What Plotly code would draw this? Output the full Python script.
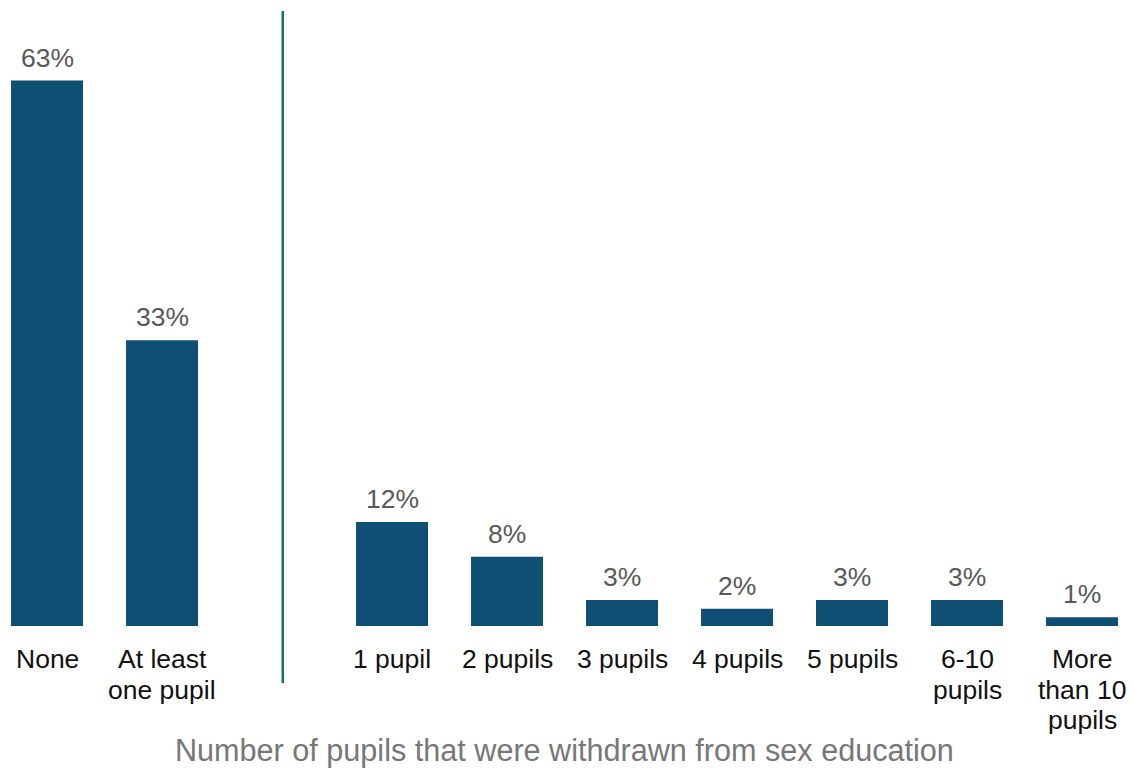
import plotly.graph_objects as go

# Withdrawal summary and breakdown
categories = ["None", "At least<br>one pupil",
              "1 pupil", "2 pupils", "3 pupils", "4 pupils", "5 pupils",
              "6-10<br>pupils", "More<br>than 10<br>pupils"]
values = [63, 33, 12, 8, 3, 2, 3, 3, 1]
# slot positions: summary bars, an empty slot for the divider, then the breakdown
positions = [0, 1, 3, 4, 5, 6, 7, 8, 9]
x_title = "Number of pupils that were withdrawn from sex education"

FONT = "Liberation Sans, Arial, sans-serif"
W, H = 1134, 769
fig = go.Figure(go.Bar(
    x=positions, y=values,
    width=0.626,
    marker=dict(color="#0f4f73", line=dict(width=0)),
    hoverinfo="skip",
))

# value labels above each bar
for p, v in zip(positions, values):
    fig.add_annotation(x=p, y=v, xref="x", yref="y", text=f"{v}%",
                       showarrow=False, xanchor="center", yanchor="bottom",
                       yshift=6, font=dict(family=FONT, size=26.5, color="#595959"))

# category labels, one annotation per line for tighter line spacing
LINE_GAP = 30.5
for p, lab in zip(positions, categories):
    for j, line in enumerate(lab.split("<br>")):
        fig.add_annotation(x=p, y=0, xref="x", yref="paper", text=line,
                           showarrow=False, xanchor="center", yanchor="middle",
                           yshift=-(33 + j * LINE_GAP),
                           font=dict(family=FONT, size=26.5, color="#111111"))

# divider between the summary and the breakdown
fig.add_shape(type="line", xref="x", yref="paper",
              x0=2.05, x1=2.05, y0=-0.094, y1=1.015,
              line=dict(color="#17705c", width=2.5))

fig.add_annotation(text=x_title, xref="paper", yref="paper",
                   x=0.498, y=0, xanchor="center", yanchor="middle",
                   yshift=-124, showarrow=False,
                   font=dict(family=FONT, size=30.6, color="#777777"))

fig.update_layout(
    width=W, height=H,
    margin=dict(l=0, r=0, t=20, b=143),
    plot_bgcolor="white", paper_bgcolor="white",
    showlegend=False,
    xaxis=dict(range=[-0.409, 9.452], showticklabels=False,
               showgrid=False, zeroline=False, showline=False, ticks="",
               fixedrange=True),
    yaxis=dict(range=[0, 70], visible=False, fixedrange=True),
)

fig.write_html("out.html", config={"displayModeBar": False})
